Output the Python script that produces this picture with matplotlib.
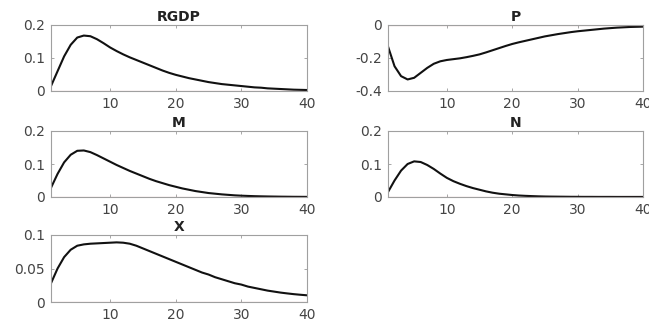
import numpy as np
import matplotlib
matplotlib.use("Agg")
import matplotlib.pyplot as plt

# horizon
t = np.arange(1, 41)

# impulse responses
rgdp = [0.015, 0.060, 0.105, 0.140, 0.162, 0.168, 0.166, 0.157, 0.145, 0.132,
        0.121, 0.111, 0.102, 0.094, 0.086, 0.078, 0.070, 0.062, 0.055, 0.049,
        0.044, 0.039, 0.035, 0.031, 0.027, 0.024, 0.021, 0.019, 0.017, 0.015,
        0.013, 0.011, 0.010, 0.008, 0.007, 0.006, 0.005, 0.004, 0.0035, 0.003]
p = [-0.13, -0.25, -0.31, -0.33, -0.32, -0.29, -0.26, -0.235, -0.22, -0.212,
     -0.207, -0.202, -0.195, -0.187, -0.178, -0.166, -0.153, -0.140, -0.127, -0.115,
     -0.105, -0.096, -0.087, -0.078, -0.069, -0.062, -0.055, -0.049, -0.043, -0.038,
     -0.034, -0.030, -0.026, -0.022, -0.019, -0.016, -0.014, -0.012, -0.011, -0.010]
m = [0.028, 0.070, 0.105, 0.128, 0.140, 0.141, 0.136, 0.127, 0.117, 0.107,
     0.097, 0.088, 0.079, 0.071, 0.063, 0.055, 0.048, 0.042, 0.036, 0.031,
     0.026, 0.022, 0.018, 0.015, 0.012, 0.010, 0.008, 0.0065, 0.005, 0.004,
     0.0032, 0.0025, 0.002, 0.0016, 0.0013, 0.001, 0.0008, 0.0006, 0.0005, 0.0004]
n = [0.015, 0.050, 0.080, 0.100, 0.108, 0.106, 0.097, 0.085, 0.071, 0.058,
     0.048, 0.040, 0.033, 0.027, 0.022, 0.017, 0.013, 0.010, 0.008, 0.006,
     0.0045, 0.0035, 0.0027, 0.002, 0.0015, 0.0012, 0.001, 0.0008, 0.0006, 0.0005,
     0.0004, 0.0004, 0.0003, 0.0003, 0.0003, 0.0002, 0.0002, 0.0002, 0.0002, 0.0002]
x = [0.028, 0.050, 0.067, 0.078, 0.084, 0.086, 0.087, 0.0875, 0.088, 0.0885,
     0.089, 0.0885, 0.087, 0.084, 0.080, 0.076, 0.072, 0.068, 0.064, 0.060,
     0.056, 0.052, 0.048, 0.044, 0.041, 0.037, 0.034, 0.031, 0.028, 0.026,
     0.023, 0.021, 0.019, 0.017, 0.0155, 0.014, 0.0128, 0.0117, 0.0108, 0.010]

titles = ["RGDP", "P", "M", "N", "X"]
series = [rgdp, p, m, n, x]
ylims = [(0, 0.2), (-0.4, 0), (0, 0.2), (0, 0.2), (0, 0.1)]
yticks = [[0, 0.1, 0.2], [-0.4, -0.2, 0], [0, 0.1, 0.2], [0, 0.1, 0.2], [0, 0.05, 0.1]]
ylabels = [["0", "0.1", "0.2"], ["-0.4", "-0.2", "0"], ["0", "0.1", "0.2"],
           ["0", "0.1", "0.2"], ["0", "0.05", "0.1"]]

# wide font to mimic the stretched lettering of the original
plt.rcParams['font.family'] = ['DejaVu Sans']

W, H = 649, 322
fig = plt.figure(figsize=(W / 100, H / 100), dpi=100)

# panel boxes in pixels: left, top, right, bottom
boxes = [(51, 25, 307, 91), (388, 25, 643, 91),
         (51, 131, 307, 197), (388, 131, 643, 197),
         (51, 235, 307, 302)]

for i in range(5):
    l, tp, r, b = boxes[i]
    ax = fig.add_axes([l / W, 1 - b / H, (r - l) / W, (b - tp) / H])
    ax.plot(t, series[i], color='#111111', lw=1.5)
    ax.axhline(0, color='#cc6666', lw=0.8)
    ax.set_xlim(1, 40)
    ax.set_ylim(*ylims[i])
    ax.set_xticks([10, 20, 30, 40])
    ax.set_yticks(yticks[i])
    ax.set_yticklabels(ylabels[i])
    ax.tick_params(direction='in', length=2.5, width=0.6, colors='#999999',
                   labelcolor='#444444', labelsize=10, pad=4.5,
                   top=True, right=True)
    for s in ax.spines.values():
        s.set_color('#a0a0a0')
        s.set_linewidth(0.8)
    ax.set_title(titles[i], fontsize=10, fontweight='bold', color='#222222', pad=3)

fig.savefig("out.png", dpi=100)
